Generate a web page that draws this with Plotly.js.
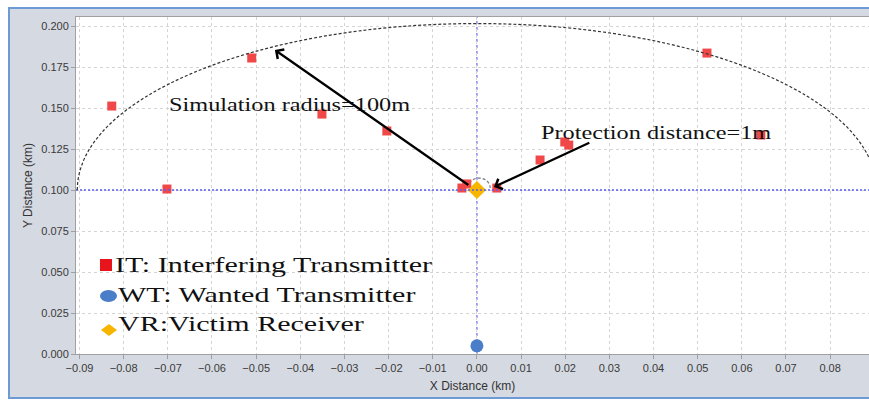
<!DOCTYPE html>
<html><head><meta charset="utf-8">
<script src="https://cdn.plot.ly/plotly-3.0.1.min.js"></script>
<style>
html,body{margin:0;padding:0;background:#fff;width:869px;height:401px;overflow:hidden;}
#frame{position:absolute;left:8px;top:7px;width:861px;height:392px;background:#d5d9e1;border-left:2px solid #6d9ad6;border-top:2px solid #6d9ad6;border-bottom:2px solid #6d9ad6;box-sizing:border-box;}
#chart{position:absolute;left:0;top:0;width:869px;height:401px;}
g.annotation[data-index="0"] text.annotation-text,
g.annotation[data-index="1"] text.annotation-text{transform-box:fill-box;transform-origin:0% 50%;transform:scaleX(1.35);}
g.annotation[data-index="2"] text.annotation-text,
g.annotation[data-index="3"] text.annotation-text,
g.annotation[data-index="4"] text.annotation-text{transform-box:fill-box;transform-origin:0% 50%;transform:scaleX(1.43);}
</style>
</head><body>
<div id="frame"></div>
<div id="chart"></div>
<script>
// Interfering transmitters (km)
const itX = [-0.0827, -0.0702, -0.0510, -0.0351, -0.0204, -0.0034, -0.0023, 0.0045, 0.0143, 0.0199, 0.0208, 0.0521, 0.0643];
const itY = [0.1512, 0.1006, 0.1805, 0.1463, 0.1360, 0.1012, 0.1037, 0.1012, 0.1183, 0.1293, 0.1274, 0.1835, 0.1335];
// Wanted transmitter
const wtX = [0.0];
const wtY = [0.005];
// Victim receiver
const vrX = [0.0];
const vrY = [0.1];
// Simulation radius ellipse (as drawn) and protection circle
const simCenter = [0.0, 0.1];
const simRadius = [0.0905, 0.1015];
const protCenter = [0.0005, 0.1012];
const protRadius = [0.0025, 0.0061];
// Ticks
const xTicks = [-0.09,-0.08,-0.07,-0.06,-0.05,-0.04,-0.03,-0.02,-0.01,0,0.01,0.02,0.03,0.04,0.05,0.06,0.07,0.08];
const yTicks = [0,0.025,0.05,0.075,0.1,0.125,0.15,0.175,0.2];
// Texts
const legendNames = ['IT: Interfering Transmitter', 'WT: Wanted Transmitter', 'VR:Victim Receiver'];
const simText = 'Simulation radius=100m';
const protText = 'Protection distance=1m';

function upperHalf(c, r) {
  const k = 0.5523;
  const [cx, cy] = c, [a, b] = r;
  return `M${cx-a},${cy} C${cx-a},${cy+k*b} ${cx-k*a},${cy+b} ${cx},${cy+b} ` +
         `C${cx+k*a},${cy+b} ${cx+a},${cy+k*b} ${cx+a},${cy}`;
}

const traces = [
  {x: itX, y: itY, type: 'scatter', mode: 'markers', name: legendNames[0], showlegend: false,
   marker: {symbol: 'square', size: 9, color: '#f04848'}, cliponaxis: false},
  {x: wtX, y: wtY, type: 'scatter', mode: 'markers', name: legendNames[1], showlegend: false,
   marker: {symbol: 'circle', size: 13, color: '#4a7ec8'}},
  {x: vrX, y: vrY, type: 'scatter', mode: 'markers', name: legendNames[2], showlegend: false,
   marker: {symbol: 'diamond', size: 14, color: '#f7b500'}}
];

const px = v => (v - 76) / 793;
const py = v => (354 - v) / 337;
const serif = 'Liberation Serif, Times New Roman, serif';

const layout = {
  width: 869, height: 401,
  margin: {l: 76, r: 0, t: 17, b: 47},
  paper_bgcolor: 'rgba(0,0,0,0)',
  plot_bgcolor: '#ffffff',
  font: {family: 'Liberation Sans, Arial, sans-serif', size: 11, color: '#3a3a3a'},
  xaxis: {
    range: [-0.0908, 0.0888], tickvals: xTicks, tickformat: '.2f',
    showgrid: true, gridcolor: '#d4d4d4', griddash: 'dot', gridwidth: 1,
    zeroline: false, showline: true, linecolor: '#a0a0a0', mirror: true,
    ticks: 'outside', ticklen: 4, tickcolor: '#a0a0a0',
    title: {text: 'X Distance (km)', font: {size: 12, color: '#333'}, standoff: 8},
    automargin: false
  },
  yaxis: {
    range: [0, 0.2055], tickvals: yTicks, tickformat: '.3f',
    showgrid: true, gridcolor: '#d4d4d4', griddash: 'dot', gridwidth: 1,
    zeroline: false, showline: true, linecolor: '#a0a0a0', mirror: true,
    ticks: 'outside', ticklen: 4, tickcolor: '#a0a0a0',
    title: {text: 'Y Distance (km)', font: {size: 12, color: '#333'}, standoff: 6},
    automargin: false
  },
  showlegend: false,
  shapes: [
    {type: 'line', xref: 'paper', yref: 'y', x0: 0, x1: 1, y0: vrY[0], y1: vrY[0],
     line: {color: '#5c5cf0', width: 1.5, dash: '2px,2px'}, layer: 'above'},
    {type: 'line', xref: 'x', yref: 'paper', x0: vrX[0], x1: vrX[0], y0: 0, y1: 1,
     line: {color: '#6a6ae6', width: 1.2, dash: 'dot'}, layer: 'between'},
    {type: 'path', xref: 'x', yref: 'y', path: upperHalf(simCenter, simRadius),
     line: {color: '#333333', width: 1.2, dash: '3px,2px'}},
    {type: 'path', xref: 'x', yref: 'y', path: upperHalf(protCenter, protRadius),
     line: {color: '#7a7a7a', width: 1.2, dash: '3px,2px'}, layer: 'between'},
    // legend glyphs
    {type: 'rect', xref: 'paper', yref: 'paper', x0: px(100), x1: px(112), y0: py(271), y1: py(259),
     fillcolor: '#e8141c', line: {width: 0}},
    {type: 'circle', xref: 'paper', yref: 'paper', x0: px(100), x1: px(117), y0: py(302), y1: py(290),
     fillcolor: '#4a7ec8', line: {width: 0}},
    {type: 'path', xref: 'paper', yref: 'paper',
     path: `M${px(101)},${py(330)} L${px(109)},${py(324)} L${px(117)},${py(330)} L${px(109)},${py(336)} Z`,
     fillcolor: '#f7b500', line: {width: 0}}
  ],
  annotations: [
    {text: simText, xref: 'x', yref: 'y', x: -0.0702, y: 0.1518, xanchor: 'left', yanchor: 'middle',
     showarrow: false, font: {family: serif, size: 18, color: '#111'}},
    {text: protText, xref: 'x', yref: 'y', x: 0.0140, y: 0.1348, xanchor: 'left', yanchor: 'middle',
     showarrow: false, font: {family: serif, size: 18, color: '#111'}},
    {text: legendNames[0], xref: 'paper', yref: 'paper', x: px(113), y: py(265), xanchor: 'left', yanchor: 'middle',
     showarrow: false, font: {family: serif, size: 21, color: '#111'}},
    {text: legendNames[1], xref: 'paper', yref: 'paper', x: px(116), y: py(295), xanchor: 'left', yanchor: 'middle',
     showarrow: false, font: {family: serif, size: 21, color: '#111'}},
    {text: legendNames[2], xref: 'paper', yref: 'paper', x: px(116), y: py(324), xanchor: 'left', yanchor: 'middle',
     showarrow: false, font: {family: serif, size: 21, color: '#111'}},
    {text: '', xref: 'x', yref: 'y', x: -0.04575, y: 0.1854, axref: 'x', ayref: 'y', ax: -0.0016, ay: 0.1024,
     showarrow: true, arrowhead: 4, arrowsize: 1, arrowwidth: 2.2, arrowcolor: '#000'},
    {text: '', xref: 'x', yref: 'y', x: 0.00385, y: 0.1018, axref: 'x', ayref: 'y', ax: 0.0258, ay: 0.1293,
     showarrow: true, arrowhead: 4, arrowsize: 1, arrowwidth: 2.2, arrowcolor: '#000'}
  ]
};

Plotly.newPlot('chart', traces, layout, {staticPlot: true, displayModeBar: false});
</script>
</body></html>
